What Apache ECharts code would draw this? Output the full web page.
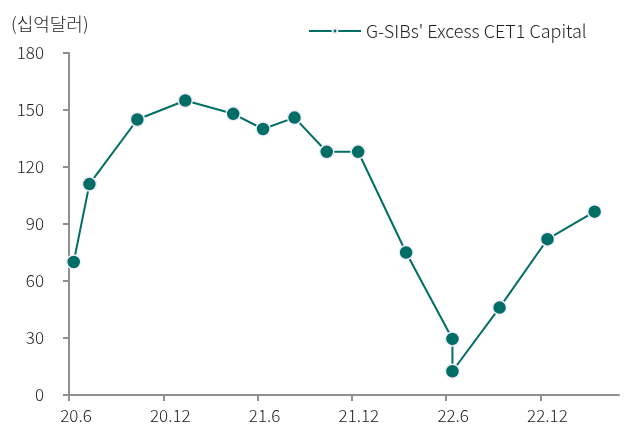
<!DOCTYPE html>
<html>
<head>
<meta charset="utf-8">
<script src="https://cdn.jsdelivr.net/npm/echarts@6/dist/echarts.min.js"></script>
<style>
  html, body { margin: 0; padding: 0; background: #fff; }
  #chart { width: 625px; height: 431px; }
</style>
</head>
<body>
<div id="chart"></div>
<script>
// months since 2020.6 (x position of each observation)
const months = [0.3, 1.3, 4.35, 7.4, 10.45, 12.35, 14.35, 16.4, 18.4, 21.45, 24.4, 24.4, 27.4, 30.45, 33.45];
// excess CET1 capital, billion USD
const excessCet1 = [70, 111, 145, 155, 148, 140, 146, 128, 128, 75, 29.5, 12.5, 46, 82, 96.5];
const tickLabels = ['20.6', '20.12', '21.6', '21.12', '22.6', '22.12'];
const tickMonths = [0, 6, 12, 18, 24, 30];
const seriesName = "G-SIBs' Excess CET1 Capital";

const teal = '#006e64';
const axisGrey = '#8f8f8f';
const font = "'Noto Sans CJK KR', 'Noto Sans', sans-serif";

const chart = echarts.init(document.getElementById('chart'));

const option = {
    animation: false,
    textStyle: { fontFamily: font, color: '#222' },
    title: {
        text: '(십억달러)',
        left: 6,
        top: 10,
        textStyle: { fontFamily: font, fontSize: 18, fontWeight: 300, color: '#222' }
    },
    legend: {
        left: 303,
        top: 17,
        itemWidth: 52,
        itemHeight: 6,
        itemGap: 6,
        textStyle: { fontFamily: font, fontSize: 18, fontWeight: 300, color: '#222' },
        data: [seriesName]
    },
    grid: { left: 69, right: 6, top: 53, bottom: 36 },
    xAxis: {
        type: 'value',
        min: 0,
        max: 35,
        interval: 6,
        splitLine: { show: false },
        axisLine: { onZero: false, lineStyle: { color: axisGrey, width: 2 } },
        axisTick: { show: true, length: 6, lineStyle: { color: axisGrey, width: 2 }, customValues: tickMonths },
        axisLabel: {
            customValues: tickMonths,
            margin: 12,
            padding: [0, 0, 0, 14],
            fontSize: 17,
            fontWeight: 300,
            color: '#222',
            fontFamily: font,
            formatter: function (v) {
                const i = tickMonths.indexOf(Math.round(v));
                return i >= 0 ? tickLabels[i] : '';
            }
        }
    },
    yAxis: {
        type: 'value',
        min: 0,
        max: 180,
        interval: 30,
        splitLine: { show: false },
        axisLine: { show: true, lineStyle: { color: axisGrey, width: 2 } },
        axisTick: { show: true, length: 6, lineStyle: { color: axisGrey, width: 2 } },
        axisLabel: { margin: 25, fontSize: 17, fontWeight: 300, color: '#222', fontFamily: font }
    },
    series: [{
        name: seriesName,
        type: 'line',
        data: months.map((m, i) => [m, excessCet1[i]]),
        symbol: 'circle',
        symbolSize: 14,
        lineStyle: { color: teal, width: 2 },
        itemStyle: { color: teal, borderColor: '#f1ecff', borderWidth: 1.5 }
    }]
};

chart.setOption(option);
window.addEventListener('resize', () => chart.resize());
</script>
</body>
</html>
